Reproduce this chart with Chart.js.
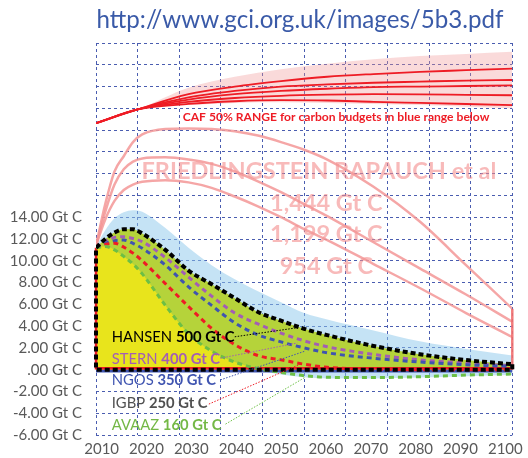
<!DOCTYPE html>
<html><head><meta charset="utf-8">
<script src="https://cdn.jsdelivr.net/npm/chart.js@4/dist/chart.umd.min.js"></script>
<style>html,body{margin:0;padding:0;background:#fff}canvas{display:block}</style>
</head><body>
<canvas id="c" width="528" height="458"></canvas>
<script>
// ---------- DATA ----------
const YEARS      = [2010,2012,2014,2016,2018,2020,2025,2030,2035,2040,2045,2050,2055,2060,2070,2080,2090,2100];
const BLUE_UPPER = [11.3,12.8,13.9,14.45,14.65,14.5,13.0,11.2,9.6,8.3,7.2,6.2,5.2,4.6,3.6,2.6,1.9,1.3];
const BLUE_LOWER = [0,0,0,0,0,0,0,0,0,0,-0.1,-0.45,-0.7,-0.8,-0.8,-0.72,-0.6,-0.5];
const HANSEN_500 = [11.2,12.0,12.6,12.9,12.9,12.5,11.0,9.1,7.85,6.57,5.3,4.5,3.75,3.17,2.18,1.42,0.88,0.5];
const STERN_400  = [11.2,11.8,12.15,12.2,12.05,11.75,10.3,8.5,6.75,5.2,4.2,3.35,2.65,2.1,1.4,0.9,0.6,0.35];
const NGOS_350   = [11.2,11.6,11.85,11.9,11.6,11.15,9.6,7.6,5.9,4.3,3.2,2.55,2.0,1.55,1.05,0.7,0.45,0.3];
const IGBP_250   = [11.2,11.5,11.6,11.25,10.7,10.0,7.9,5.8,3.8,2.3,1.3,0.9,0.5,0.22,0.05,0,0,0];
const AVAAZ_160  = [11.2,11.3,11.0,10.4,9.7,8.8,5.9,3.3,1.7,0.7,0.1,-0.25,-0.55,-0.7,-0.72,-0.65,-0.5,-0.4];
const FR_1444    = [11.4,15.2,18.2,19.6,20.9,21.6,22.1,22.15,22.1,21.9,21.5,20.9,20.2,19.3,16.8,13.6,9.6,5.6];
const FR_1199    = [11.4,14.5,17.0,18.4,19.1,19.4,19.5,19.3,18.9,18.2,17.3,16.3,15.2,14.1,11.7,9.3,6.9,4.4];
const FR_954     = [11.4,13.8,15.5,16.5,17.0,17.25,17.4,17.2,16.7,15.9,15.0,14.0,12.9,11.9,9.7,7.5,5.2,3.0];

const CAF_YEARS      = [2010,2019,2030,2040,2050,2060,2070,2080,2090,2100];
const CAF_1          = [22.64,23.9,25.3,26.0,26.5,26.9,27.15,27.35,27.5,27.65];
const CAF_2          = [22.64,23.9,25.0,25.6,26.0,26.2,26.35,26.45,26.55,26.6];
const CAF_3          = [22.64,23.9,24.8,25.3,25.6,25.8,25.95,26.0,26.05,26.1];
const CAF_4          = [22.64,23.9,24.6,24.95,25.15,25.25,25.3,25.28,25.24,25.2];
const CAF_5          = [22.64,23.9,24.4,24.65,24.75,24.72,24.6,24.5,24.4,24.3];
const CAF_BAND_UPPER = [22.64,23.9,25.9,26.9,27.6,28.1,28.5,28.8,29.0,29.2];
const CAF_BAND_LOWER = [22.64,23.9,24.3,24.5,24.55,24.5,24.4,24.3,24.15,24.0];

const GRID_YEARS   = [2010,2019,2028,2037,2046,2055,2064,2073,2082,2091,2100];
const X_TICK_YEARS = [2010,2020,2030,2040,2050,2060,2070,2080,2090,2100];
const Y_MIN = -6, Y_MAX = 30, Y_STEP = 2, Y_LABEL_MAX = 14;

const SCEN_NAMES   = ['HANSEN','STERN','NGOS','IGBP','AVAAZ'];
const SCEN_BUDGETS = ['500 Gt C','400 Gt C','350 Gt C','250 Gt C','160 Gt C'];
const LEAD_FROM_X = [2040.0,2036.9,2036.9,2034.4,2038.0];
const LEAD_FROM_Y = [3.02,1.05,-0.94,-3.16,-5.0];
const LEAD_TO_X   = [2053.7,2053.5,2055.3,2054.6,2055.3];
const LEAD_TO_Y   = [3.86,2.45,1.72,0.59,-0.68];

const FR_TITLE = 'FRIEDLINGSTEIN RAPAUCH et al';
const FR_LABELS = ['1,444 Gt C','1,199 Gt C','954 Gt C'];
const TITLE = 'http://www.gci.org.uk/images/5b3.pdf';
const CAF_TEXT = 'CAF 50% RANGE for carbon budgets in blue range below';

// ---------- STYLE ----------
const FONT = 'Lato, "Open Sans", sans-serif';
const GRID_COLOR = '#4a5db0';
const C_PURPLE = '#a35db5', C_BLUE = '#3f54b0', C_RED = '#ee1c25', C_GREEN = '#6cbf45';
const SCEN_COLORS = ['#000000', C_PURPLE, C_BLUE, '#505050', '#74b846'];
const LEAD_COLORS = ['#000000', C_PURPLE, C_BLUE, C_RED, C_GREEN];

const pts = (xs, ys) => xs.map((x, i) => ({x, y: ys[i]}));
const datasets = [];
function add(data, o) { datasets.push(Object.assign({data, borderWidth: 0, borderColor: 'rgba(0,0,0,0)', fill: false, pointRadius: 0, cubicInterpolationMode: 'monotone'}, o)); return datasets.length - 1; }

// CAF band + lines
const iCafLow = add(pts(CAF_YEARS, CAF_BAND_LOWER), {});
add(pts(CAF_YEARS, CAF_BAND_UPPER), {fill: {target: iCafLow}, backgroundColor: 'rgba(242,150,150,0.35)'});
[CAF_1, CAF_2, CAF_3, CAF_4, CAF_5].forEach(a => add(pts(CAF_YEARS, a), {borderColor: C_RED, borderWidth: 1.8}));

// blue range
const iBlueLow = add(pts(YEARS, BLUE_LOWER), {});
add(pts(YEARS, BLUE_UPPER), {fill: {target: iBlueLow}, backgroundColor: 'rgba(140,200,235,0.5)'});
// olive (Hansen) and yellow (Avaaz) fills
add(pts(YEARS, HANSEN_500), {fill: 'origin', backgroundColor: '#b5d33a'});
add(pts(YEARS, AVAAZ_160), {fill: {target: {value: 0}, above: '#e8e41c', below: 'rgba(0,0,0,0)'}});

// Friedlingstein pink curves
const PINK = 'rgba(243,150,150,0.85)';
[FR_1444, FR_1199, FR_954].forEach(a => add(pts(YEARS, a), {borderColor: PINK, borderWidth: 2.5}));
add(pts([2100, 2100, 2100], [FR_1444[FR_1444.length - 1], 2.8, 0]), {borderColor: 'rgba(240,110,110,0.9)', borderWidth: 2.5, cubicInterpolationMode: 'default', clip: false});

// baseline / left edge
add(pts([2010, 2100], [-0.12, -0.12]), {borderColor: C_BLUE, borderWidth: 3, cubicInterpolationMode: 'default', clip: false});
add(pts([2010, 2010, 2100], [HANSEN_500[0], 0.12, 0.12]), {borderColor: C_RED, borderWidth: 2.5, cubicInterpolationMode: 'default', clip: false});

// scenario dashed curves
add(pts(YEARS, STERN_400), {borderColor: C_PURPLE, borderWidth: 3, borderDash: [5, 4]});
add(pts(YEARS, NGOS_350), {borderColor: C_BLUE, borderWidth: 3, borderDash: [5, 4]});
add(pts(YEARS, IGBP_250), {borderColor: C_RED, borderWidth: 3, borderDash: [5, 4]});
add(pts(YEARS, AVAAZ_160), {borderColor: C_GREEN, borderWidth: 3, borderDash: [5, 4]});
add(pts(YEARS, HANSEN_500), {borderColor: '#000', borderWidth: 4, borderDash: [5, 3]});
add(pts([2100, 2100, 2010, 2010], [HANSEN_500[HANSEN_500.length - 1], 0, 0, HANSEN_500[0]]), {borderColor: '#000', borderWidth: 4, borderDash: [5, 3], cubicInterpolationMode: 'default', clip: false});

// leaders
LEAD_FROM_X.forEach((x, i) => add(pts([x, LEAD_TO_X[i]], [LEAD_FROM_Y[i], LEAD_TO_Y[i]]), {borderColor: LEAD_COLORS[i], borderWidth: 1, borderDash: [1.5, 1.5], cubicInterpolationMode: 'default'}));

datasets.forEach((d, i) => { d.order = datasets.length - i; });

// ---------- TEXT PLUGIN ----------
function measureParts(ctx, parts, size) {
  let w = 0;
  for (const p of parts) { ctx.font = (p.bold ? 'bold ' : '') + size + 'px ' + FONT; w += ctx.measureText(p.t).width; }
  return w;
}
function fitSize(ctx, parts, target) { return 20 * target / measureParts(ctx, parts, 20); }
function drawParts(ctx, parts, x, y, size, align) {
  const w = measureParts(ctx, parts, size);
  let cx = align === 'center' ? x - w / 2 : x;
  ctx.textBaseline = 'middle'; ctx.textAlign = 'left';
  for (const p of parts) {
    ctx.font = (p.bold ? 'bold ' : '') + size + 'px ' + FONT;
    ctx.fillStyle = p.c;
    ctx.fillText(p.t, cx, y);
    cx += ctx.measureText(p.t).width;
  }
}
const textPlugin = {
  id: 'texts',
  beforeDatasetsDraw(chart) {
    const {ctx, scales: {x, y}} = chart;
    ctx.save();
    const col = 'rgba(243,140,140,0.6)';
    const head = [{t: FR_TITLE, bold: true, c: col}];
    const s = fitSize(ctx, head, 355);
    drawParts(ctx, head, x.getPixelForValue(2058.2), y.getPixelForValue(18.2), s, 'center');
    const vals = [15.3, 12.4, 9.5];
    FR_LABELS.forEach((t, i) => drawParts(ctx, [{t, bold: true, c: col}], x.getPixelForValue(2059.8), y.getPixelForValue(vals[i]), s, 'center'));
    ctx.restore();
  },
  afterDatasetsDraw(chart) {
    const {ctx, scales: {x, y}} = chart;
    ctx.save();
    const title = [{t: TITLE, c: '#3a5aa8'}];
    drawParts(ctx, title, 300, 20, fitSize(ctx, title, 407), 'center');
    const caf = [{t: CAF_TEXT, bold: true, c: C_RED}];
    drawParts(ctx, caf, x.getPixelForValue(2061.9), y.getPixelForValue(23.2), fitSize(ctx, caf, 307), 'center');
    const ref = [{t: SCEN_NAMES[0] + ' '}, {t: SCEN_BUDGETS[0], bold: true}];
    const ss = fitSize(ctx, ref, 123);
    const ys = [2.95, 0.96, -0.93, -3.07, -5.08];
    SCEN_NAMES.forEach((n, i) => {
      drawParts(ctx, [{t: n + ' ', c: SCEN_COLORS[i]}, {t: SCEN_BUDGETS[i], bold: true, c: SCEN_COLORS[i]}],
        x.getPixelForValue(2013.4), y.getPixelForValue(ys[i]), ss, 'left');
    });
    ctx.restore();
  }
};

const fmt = v => (v === 0 ? '' : (v < 0 ? '-' : '') + Math.floor(Math.abs(v))) + '.00 Gt C';

new Chart(document.getElementById('c'), {
  type: 'line',
  data: {datasets},
  options: {
    responsive: false, animation: false, events: [],
    layout: {padding: {left: 0, right: 12, top: 0, bottom: 0}},
    plugins: {legend: {display: false}, tooltip: {enabled: false}, title: {display: false}},
    elements: {point: {radius: 0}, line: {tension: 0}},
    scales: {
      x: {type: 'linear', position: 'top', min: 2010, max: 2100,
          afterBuildTicks: s => { s.ticks = GRID_YEARS.map(v => ({value: v})); },
          ticks: {display: false},
          grid: {color: GRID_COLOR, lineWidth: 1, drawTicks: false},
          border: {display: false, dash: [3, 3]},
          afterFit: s => { s.height = 43; }},
      xl: {type: 'linear', axis: 'x', position: 'bottom', min: 2008.74, max: 2101.55,
          afterBuildTicks: s => { s.ticks = X_TICK_YEARS.map(v => ({value: v})); },
          ticks: {autoSkip: false, maxRotation: 0, padding: 5, color: '#595959', font: {family: FONT, size: 15}, callback: v => String(v)},
          grid: {display: false, drawTicks: false}, border: {display: false},
          afterFit: s => { s.height = 22; }},
      y: {type: 'linear', position: 'left', min: Y_MIN, max: Y_MAX,
          ticks: {stepSize: Y_STEP, autoSkip: false, padding: 14, color: '#595959', font: {family: FONT, size: 15},
                  callback: v => v > Y_LABEL_MAX ? '' : fmt(v)},
          grid: {color: GRID_COLOR, lineWidth: 1, drawTicks: false},
          border: {display: false, dash: [3, 3]},
          afterFit: s => { s.width = 96; }}
    }
  },
  plugins: [textPlugin]
});
</script>
</body></html>
